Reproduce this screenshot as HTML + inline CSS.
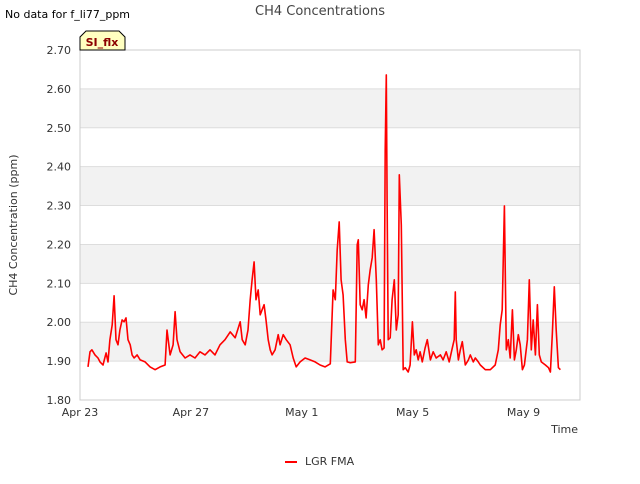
<!DOCTYPE html>
<html><head><meta charset="utf-8"><style>
body{margin:0;background:#fff;font-family:"DejaVu Sans","Liberation Sans",sans-serif}
svg text{font-family:"DejaVu Sans","Liberation Sans",sans-serif}
</style></head><body>
<svg id="chart" width="640" height="480" viewBox="0 0 640 480">
<text x="5" y="18" font-size="11" fill="#000">No data for f_li77_ppm</text>
<text x="320" y="15" font-size="13" fill="#444" text-anchor="middle">CH4 Concentrations</text>
<g id="bands"></g>
<g id="yaxis"></g>
<g id="xaxis"></g>
<rect x="80" y="50" width="500" height="350" fill="none" stroke="#ccc"/>
<path id="line" fill="none" stroke="#ff0000" stroke-width="1.6" stroke-linejoin="round"/>
<g>
<path d="M80,50 L80,37 L86,31 L119,31 L125,37 L125,50 Z" fill="#ffffc0" stroke="#000" stroke-width="1"/>
<text x="102" y="46" font-size="11" font-weight="bold" fill="#8b0000" text-anchor="middle">SI_flx</text>
</g>
<text transform="translate(17,225) rotate(-90)" font-size="11" fill="#333" text-anchor="middle">CH4 Concentration (ppm)</text>
<text x="578" y="433" font-size="11" fill="#333" text-anchor="end">Time</text>
<g>
<line x1="285" y1="462" x2="297" y2="462" stroke="#ff0000" stroke-width="2"/>
<text x="305" y="465" font-size="11" fill="#333">LGR FMA</text>
</g>
</svg>
<script>
const yTicks=[1.8,1.9,2.0,2.1,2.2,2.3,2.4,2.5,2.6,2.7];
const xTickDays=[0,4,8,12,16];
const xTickLabels=["Apr 23","Apr 27","May 1","May 5","May 9"];
const days=[0.29,0.36,0.43,0.54,0.65,0.72,0.83,0.94,1.01,1.08,1.16,1.23,1.30,1.37,1.44,1.52,1.59,1.66,1.73,1.81,1.88,1.95,2.06,2.17,2.35,2.53,2.71,2.89,3.07,3.14,3.25,3.36,3.43,3.50,3.61,3.79,3.97,4.15,4.33,4.51,4.69,4.87,5.05,5.23,5.42,5.60,5.78,5.85,5.96,6.06,6.14,6.21,6.28,6.35,6.43,6.50,6.57,6.64,6.71,6.79,6.86,6.93,7.04,7.15,7.22,7.33,7.44,7.58,7.69,7.80,7.94,8.12,8.30,8.48,8.66,8.84,9.03,9.13,9.21,9.28,9.35,9.42,9.49,9.57,9.64,9.75,9.93,10.00,10.04,10.11,10.18,10.25,10.32,10.40,10.47,10.54,10.61,10.69,10.76,10.83,10.90,10.97,11.01,11.05,11.08,11.12,11.19,11.26,11.34,11.41,11.48,11.52,11.59,11.66,11.73,11.84,11.91,11.99,12.06,12.13,12.20,12.27,12.35,12.45,12.53,12.64,12.74,12.85,13.00,13.10,13.21,13.32,13.43,13.50,13.54,13.57,13.65,13.72,13.79,13.90,14.01,14.08,14.19,14.26,14.37,14.44,14.62,14.80,14.98,15.09,15.16,15.23,15.31,15.38,15.45,15.52,15.60,15.67,15.74,15.81,15.88,15.96,16.03,16.14,16.21,16.28,16.35,16.43,16.50,16.57,16.64,16.79,16.90,16.97,17.04,17.11,17.18,17.26,17.33];
const ch4=[1.885,1.924,1.929,1.916,1.908,1.898,1.890,1.921,1.898,1.955,1.993,2.068,1.955,1.942,1.980,2.006,2.001,2.011,1.955,1.942,1.916,1.908,1.916,1.903,1.898,1.885,1.878,1.885,1.890,1.980,1.916,1.942,2.027,1.955,1.924,1.908,1.916,1.908,1.924,1.916,1.929,1.916,1.942,1.955,1.975,1.960,2.001,1.955,1.942,1.980,2.058,2.109,2.155,2.058,2.083,2.019,2.032,2.045,2.006,1.955,1.929,1.916,1.929,1.968,1.942,1.968,1.955,1.942,1.908,1.885,1.898,1.908,1.903,1.898,1.890,1.885,1.893,2.083,2.058,2.186,2.258,2.109,2.070,1.955,1.898,1.896,1.898,2.199,2.212,2.045,2.032,2.058,2.011,2.096,2.135,2.166,2.238,2.109,1.942,1.955,1.929,1.934,2.443,2.636,2.315,1.955,1.960,2.058,2.109,1.980,2.019,2.379,2.250,1.878,1.883,1.872,1.890,2.001,1.916,1.929,1.903,1.924,1.898,1.934,1.955,1.903,1.924,1.908,1.916,1.903,1.924,1.898,1.934,1.955,2.078,1.955,1.903,1.929,1.950,1.890,1.903,1.916,1.898,1.908,1.898,1.890,1.878,1.878,1.890,1.929,1.993,2.032,2.299,1.929,1.955,1.908,2.032,1.903,1.929,1.968,1.942,1.878,1.890,1.955,2.109,1.929,2.006,1.916,2.045,1.916,1.898,1.890,1.883,1.872,1.968,2.091,1.980,1.883,1.878];
const NS="http://www.w3.org/2000/svg";
const X=d=>80+d*27.72;
const Y=v=>400-(v-1.8)/0.9*350;
const bands=document.getElementById('bands'),ya=document.getElementById('yaxis'),xa=document.getElementById('xaxis');
for(let i=0;i<yTicks.length-1;i++){
  const r=document.createElementNS(NS,'rect');
  r.setAttribute('x',80);r.setAttribute('width',500);
  r.setAttribute('y',Y(yTicks[i+1]));r.setAttribute('height',Y(yTicks[i])-Y(yTicks[i+1]));
  r.setAttribute('fill',i%2===1?'#f2f2f2':'#ffffff');
  
  
  bands.appendChild(r);
}
yTicks.forEach(v=>{
  const l=document.createElementNS(NS,'line');
  l.setAttribute('x1',80);l.setAttribute('x2',580);l.setAttribute('y1',Y(v));l.setAttribute('y2',Y(v));
  l.setAttribute('stroke','#ddd');
  
  
  ya.appendChild(l);
  const t=document.createElementNS(NS,'text');
  t.setAttribute('x',71);t.setAttribute('y',Y(v)+4);t.setAttribute('font-size','11');
  t.setAttribute('text-anchor','end');t.setAttribute('fill','#333');
  t.textContent=v.toFixed(2);
  
  
  ya.appendChild(t);
});
xTickDays.forEach((d,i)=>{
  const t=document.createElementNS(NS,'text');
  t.setAttribute('x',X(d));t.setAttribute('y',416);t.setAttribute('font-size','11');
  t.setAttribute('text-anchor','middle');t.setAttribute('fill','#333');
  t.textContent=xTickLabels[i];
  
  
  xa.appendChild(t);
});
document.getElementById('line').setAttribute('d',days.map((d,i)=>(i?'L':'M')+X(d).toFixed(1)+','+Y(ch4[i]).toFixed(1)).join(''));
</script>
</body></html>
